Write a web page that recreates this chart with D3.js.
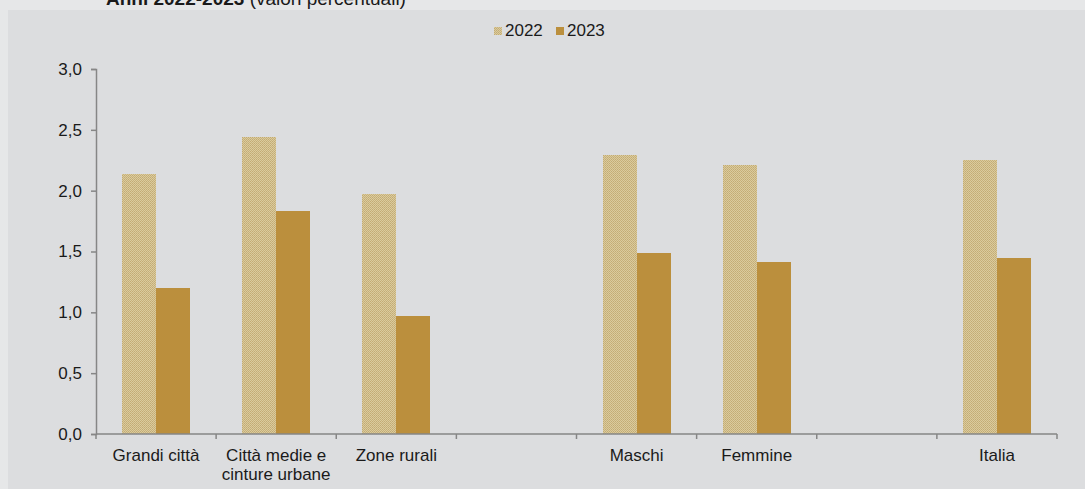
<!DOCTYPE html>
<meta charset="utf-8">
<script src="https://d3js.org/d3.v7.min.js"></script>
<style>
body { margin: 0; background: #e6e7e8; }
svg { display: block; font-family: "Liberation Sans", Arial, sans-serif; }
.axis path, .axis line { stroke: #868686; stroke-width: 1.5px; }
.axis text { font-size: 17px; fill: #1a1a1a; }
.grp rect { shape-rendering: crispEdges; }
</style>
<body></body>
<script>

// data
var categories = ['Grandi città', 'Città medie e|cinture urbane', 'Zone rurali', 'gap1', 'Maschi', 'Femmine', 'gap2', 'Italia'];
var series = ['2022', '2023'];
var values2022 = [2.14, 2.44, 1.97, null, 2.29, 2.21, null, 2.25];
var values2023 = [1.20, 1.83, 0.97, null, 1.49, 1.41, null, 1.45];
var yTicks = [0, 0.5, 1, 1.5, 2, 2.5, 3];

var W = 1085, H = 489;
var margin = {top: 69, right: 28, bottom: 55, left: 96};
var width = W - margin.left - margin.right;
var height = H - margin.top - margin.bottom;

var svg = d3.select('body').append('svg')
  .attr('width', W)
  .attr('height', H);

// fine checker pattern for 2022
var defs = svg.append('defs');
var pat = defs.append('pattern')
  .attr('id', 'dots')
  .attr('width', 2).attr('height', 2)
  .attr('patternUnits', 'userSpaceOnUse');
pat.append('rect').attr('width', 2).attr('height', 2).attr('fill', '#dacb9e');
pat.append('rect').attr('width', 1).attr('height', 1).attr('fill', '#c3ab74');
pat.append('rect').attr('x', 1).attr('y', 1).attr('width', 1).attr('height', 1).attr('fill', '#c9b27c');

var colors = {'2022': 'url(#dots)', '2023': '#bb8f3d'};

// panel
svg.append('rect')
  .attr('x', 8).attr('y', 10)
  .attr('width', W - 8).attr('height', H - 10)
  .attr('fill', '#dcdddf');

// title (cut at top, as in the source)
var title = svg.append('text')
  .attr('x', 106).attr('y', 5)
  .style('font-size', '19px')
  .style('fill', '#1a1a1a');
title.append('tspan').style('font-weight', 'bold').text('Anni 2022-2023');
title.append('tspan').text(' (valori percentuali)');

var g = svg.append('g')
  .attr('transform', 'translate(' + margin.left + ',' + margin.top + ')');

var x = d3.scaleBand()
  .domain(categories)
  .range([0, width])
  .paddingInner(0)
  .paddingOuter(0);

var x1 = d3.scaleBand()
  .domain(series)
  .range([x.bandwidth() * 0.217, x.bandwidth() * 0.783]);

var y = d3.scaleLinear()
  .domain([0, 3])
  .range([height, 0]);

// bars
var rows = categories.map(function(c, i) {
  return {cat: c, vals: [{s: '2022', v: values2022[i]}, {s: '2023', v: values2023[i]}]};
});

var grp = g.selectAll('.grp')
  .data(rows).enter().append('g')
  .attr('class', 'grp')
  .attr('transform', function(d) { return 'translate(' + Math.round(x(d.cat)) + ',0)'; });

grp.selectAll('rect')
  .data(function(d) { return d.vals.filter(function(e) { return e.v != null; }); })
  .enter().append('rect')
  .attr('x', function(d) { return Math.round(x1(d.s)); })
  .attr('width', Math.round(x1.bandwidth()))
  .attr('y', function(d) { return Math.round(y(d.v)); })
  .attr('height', function(d) { return height - Math.round(y(d.v)); })
  .attr('fill', function(d) { return colors[d.s]; });

// y axis
var yAxis = d3.axisLeft(y)
  .tickValues(yTicks)
  .tickSize(5)
  .tickPadding(9)
  .tickFormat(function(d) { return d3.format('.1f')(d).replace('.', ','); });

g.append('g')
  .attr('class', 'y axis')
  .call(yAxis);

// x axis: ticks at band edges
var xAxisG = g.append('g')
  .attr('class', 'x axis')
  .attr('transform', 'translate(0,' + height + ')');

xAxisG.append('line')
  .attr('x1', 0).attr('x2', width);

var edges = categories.map(function(c) { return x(c); }).concat([width]);
xAxisG.selectAll('.edge')
  .data(edges).enter().append('line')
  .attr('class', 'edge')
  .attr('x1', function(d) { return d; })
  .attr('x2', function(d) { return d; })
  .attr('y1', 0).attr('y2', 5);

var lbl = xAxisG.selectAll('.lbl')
  .data(categories.filter(function(c) { return c.indexOf('gap') !== 0; }))
  .enter().append('text')
  .attr('class', 'lbl')
  .attr('text-anchor', 'middle')
  .attr('transform', function(d) { return 'translate(' + (x(d) + x.bandwidth() / 2) + ',27)'; });

lbl.selectAll('tspan')
  .data(function(d) { return d.split('|'); })
  .enter().append('tspan')
  .attr('x', 0)
  .attr('dy', function(d, i) { return i === 0 ? 0 : 19; })
  .text(function(d) { return d; });

// legend
var legend = svg.append('g').attr('transform', 'translate(494,24)');
var li = legend.selectAll('.li')
  .data(series).enter().append('g')
  .attr('class', 'li')
  .attr('transform', function(d, i) { return 'translate(' + (i * 62) + ',0)'; });

li.append('rect')
  .attr('width', 8).attr('height', 8)
  .attr('y', 3)
  .attr('fill', function(d) { return colors[d]; });

li.append('text')
  .attr('x', 11).attr('y', 12)
  .style('font-size', '17px')
  .style('fill', '#1a1a1a')
  .text(function(d) { return d; });

</script>
